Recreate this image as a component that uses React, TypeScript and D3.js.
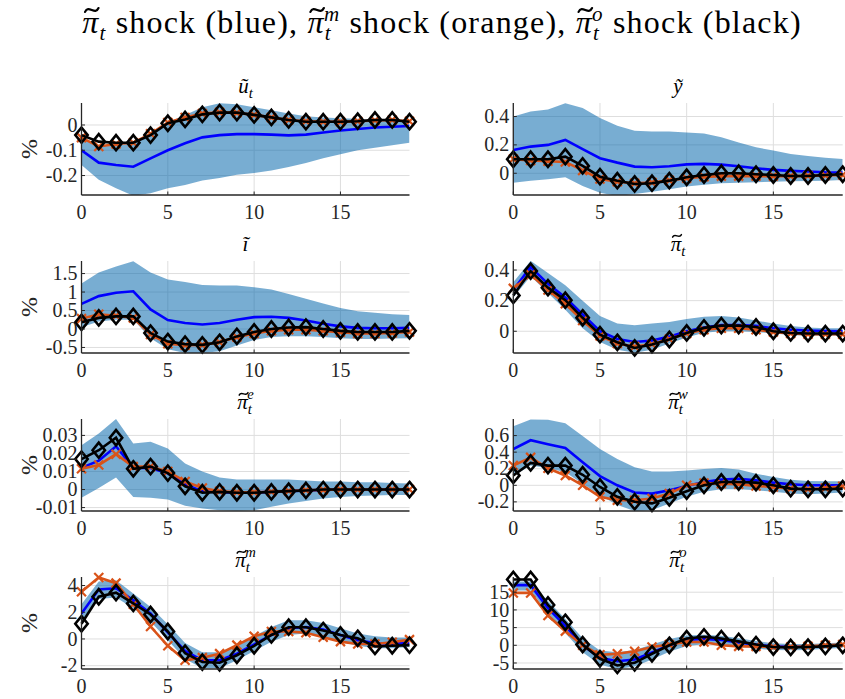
import React, { useLayoutEffect, useRef, useState } from "react";
import * as d3 from "d3";

// Impulse-response horizon
const horizon = d3.range(20);
const xTicks = [0, 5, 10, 15];

// ---- u_t ----
const uBlue = [-0.1, -0.149, -0.158, -0.165, -0.132, -0.1, -0.072, -0.049, -0.04, -0.036, -0.036, -0.038, -0.041, -0.038, -0.03, -0.022, -0.016, -0.01, -0.007, -0.004];
const uLo = [-0.158, -0.217, -0.25, -0.28, -0.27, -0.25, -0.237, -0.22, -0.21, -0.197, -0.19, -0.18, -0.166, -0.15, -0.132, -0.116, -0.1, -0.09, -0.08, -0.07];
const uHi = [-0.05, -0.08, -0.08, -0.07, -0.03, 0.01, 0.04, 0.07, 0.086, 0.082, 0.07, 0.058, 0.045, 0.035, 0.03, 0.027, 0.025, 0.022, 0.02, 0.018];
const uOrange = [-0.05, -0.085, -0.075, -0.07, -0.035, 0.01, 0.03, 0.045, 0.05, 0.048, 0.04, 0.03, 0.02, 0.015, 0.013, 0.013, 0.015, 0.018, 0.02, 0.015];
const uBlack = [-0.04, -0.066, -0.07, -0.07, -0.04, 0.007, 0.022, 0.042, 0.049, 0.049, 0.04, 0.03, 0.02, 0.013, 0.013, 0.013, 0.015, 0.02, 0.02, 0.013];

// ---- y ----
const yBlue = [0.164, 0.188, 0.2, 0.235, 0.17, 0.106, 0.075, 0.047, 0.042, 0.05, 0.063, 0.066, 0.061, 0.05, 0.035, 0.024, 0.017, 0.012, 0.007, 0.005];
const yLo = [-0.066, -0.052, -0.042, -0.028, -0.09, -0.137, -0.16, -0.146, -0.13, -0.113, -0.094, -0.08, -0.07, -0.066, -0.064, -0.059, -0.056, -0.054, -0.052, -0.047];
const yHi = [0.4, 0.435, 0.45, 0.494, 0.46, 0.39, 0.334, 0.3, 0.294, 0.294, 0.287, 0.28, 0.254, 0.216, 0.183, 0.16, 0.136, 0.122, 0.11, 0.1];
const yOrange = [0.1, 0.09, 0.085, 0.08, 0.02, -0.04, -0.06, -0.07, -0.065, -0.05, -0.035, -0.025, -0.02, -0.02, -0.02, -0.02, -0.02, -0.018, -0.015, -0.012];
const yBlack = [0.099, 0.099, 0.099, 0.117, 0.052, -0.024, -0.052, -0.075, -0.07, -0.052, -0.028, -0.012, 0, 0, -0.007, -0.012, -0.019, -0.019, -0.012, -0.007];

// ---- i ----
const iBlue = [0.68, 0.89, 0.98, 1.02, 0.53, 0.24, 0.16, 0.12, 0.16, 0.25, 0.32, 0.33, 0.3, 0.23, 0.14, 0.07, 0.03, 0.02, 0.02, 0.03];
const iLo = [0.05, 0.2, 0.25, 0.25, -0.25, -0.55, -0.65, -0.65, -0.6, -0.45, -0.3, -0.22, -0.2, -0.2, -0.22, -0.25, -0.27, -0.27, -0.26, -0.25];
const iHi = [1.23, 1.53, 1.69, 1.83, 1.53, 1.34, 1.27, 1.19, 1.18, 1.18, 1.13, 1.07, 0.95, 0.82, 0.69, 0.57, 0.48, 0.44, 0.4, 0.38];
const iOrange = [0.28, 0.4, 0.36, 0.3, -0.15, -0.4, -0.44, -0.43, -0.36, -0.22, -0.12, -0.05, -0.02, -0.02, -0.05, -0.09, -0.12, -0.12, -0.11, -0.08];
const iBlack = [0.18, 0.3, 0.34, 0.34, -0.11, -0.34, -0.41, -0.43, -0.36, -0.2, -0.08, 0, 0.04, 0.05, 0, -0.05, -0.08, -0.08, -0.08, -0.05];

// ---- pi_t ----
const pBlue = [0.27, 0.42, 0.31, 0.22, 0.11, 0.0, -0.05, -0.07, -0.06, -0.035, 0.0, 0.025, 0.04, 0.04, 0.035, 0.02, 0.01, 0.005, 0.002, 0.0];
const pLo = [0.22, 0.36, 0.25, 0.14, 0.02, -0.07, -0.12, -0.14, -0.12, -0.08, -0.04, -0.01, 0.0, 0.0, -0.005, -0.015, -0.025, -0.03, -0.03, -0.03];
const pHi = [0.32, 0.46, 0.38, 0.3, 0.2, 0.1, 0.05, 0.04, 0.05, 0.06, 0.08, 0.095, 0.1, 0.09, 0.07, 0.05, 0.035, 0.025, 0.02, 0.02];
const pOrange = [0.28, 0.37, 0.27, 0.18, 0.07, -0.03, -0.08, -0.1, -0.085, -0.05, -0.015, 0.01, 0.02, 0.02, 0.01, -0.005, -0.015, -0.02, -0.02, -0.02];
const pBlack = [0.234, 0.393, 0.285, 0.203, 0.088, -0.022, -0.072, -0.109, -0.087, -0.054, -0.011, 0.022, 0.037, 0.037, 0.028, 0, -0.011, -0.015, -0.015, -0.015];

// ---- pi_e ----
const eBlue = [0.012, 0.016, 0.024, 0.012, 0.012, 0.009, 0.003, -0.001, -0.0015, -0.0018, -0.0017, -0.0013, -0.0009, -0.0005, -0.0002, 0, 0, 0, 0, 0];
const eLo = [-0.0045, 0.0009, 0.0067, -0.0042, -0.0045, -0.0055, -0.009, -0.0105, -0.0115, -0.0118, -0.0115, -0.0095, -0.0078, -0.0064, -0.005, -0.0042, -0.0036, -0.0033, -0.003, -0.003];
const eHi = [0.0245, 0.031, 0.0391, 0.0255, 0.0265, 0.0227, 0.0145, 0.01, 0.0067, 0.0055, 0.0055, 0.0055, 0.0055, 0.005, 0.0045, 0.0045, 0.004, 0.004, 0.0036, 0.0033];
const eOrange = [0.0115, 0.0136, 0.0196, 0.0127, 0.0127, 0.01, 0.0045, 0.0009, -0.0009, -0.0015, -0.0015, -0.0012, -0.0008, -0.0004, -0.0002, 0, 0, 0, 0, 0];
const eBlack = [0.0169, 0.0218, 0.0287, 0.0115, 0.0127, 0.0091, 0.0018, -0.0018, -0.0013, -0.0018, -0.0018, -0.0013, -0.0009, -0.0005, 0, 0, 0, 0, 0, 0];

// ---- pi_w ----
const wBlue = [0.437, 0.544, 0.496, 0.45, 0.278, 0.111, 0.0, -0.087, -0.1, -0.06, -0.008, 0.04, 0.071, 0.079, 0.06, 0.032, 0.012, 0, 0, 0];
const wLo = [0.111, 0.238, 0.206, 0.159, 0.02, -0.119, -0.238, -0.31, -0.3, -0.218, -0.139, -0.079, -0.048, -0.048, -0.06, -0.079, -0.1, -0.107, -0.1, -0.087];
const wHi = [0.714, 0.794, 0.79, 0.75, 0.595, 0.437, 0.317, 0.218, 0.167, 0.167, 0.18, 0.198, 0.21, 0.19, 0.14, 0.1, 0.067, 0.052, 0.048, 0.048];
const wOrange = [0.238, 0.337, 0.206, 0.119, 0, -0.139, -0.18, -0.18, -0.16, -0.1, 0, 0.028, 0.02, 0.012, -0.008, -0.02, -0.04, -0.048, -0.032, -0.012];
const wBlack = [0.119, 0.27, 0.238, 0.238, 0.127, -0.02, -0.139, -0.198, -0.218, -0.15, -0.071, 0, 0.04, 0.04, 0.032, 0, -0.04, -0.048, -0.048, -0.04];

// ---- pi_m ----
const mBlue = [1.9, 3.7, 3.8, 2.9, 1.9, 0.5, -0.9, -1.6, -1.6, -1.1, -0.4, 0.3, 0.8, 0.9, 0.7, 0.3, -0.1, -0.3, -0.35, -0.3];
const mLo = [1.3, 3.0, 3.1, 2.3, 1.3, -0.1, -1.5, -2.2, -2.2, -1.6, -0.9, -0.2, 0.3, 0.4, 0.2, -0.2, -0.5, -0.7, -0.7, -0.6];
const mHi = [2.6, 4.3, 4.4, 3.4, 2.4, 1.1, -0.3, -1.0, -1.0, -0.5, 0.2, 0.9, 1.4, 1.4, 1.2, 0.8, 0.4, 0.2, 0.1, 0.1];
const mOrange = [3.54, 4.6, 4.18, 2.6, 0.93, -0.51, -1.6, -1.4, -1.1, -0.46, 0.2, 0.56, 0.56, 0.46, 0.13, -0.2, -0.38, -0.38, -0.25, -0.05];
const mBlack = [1.14, 3.16, 3.47, 2.66, 1.83, 0.56, -1.06, -1.73, -1.78, -1.22, -0.51, 0.3, 0.88, 0.88, 0.63, 0.3, 0.05, -0.56, -0.51, -0.46];

// ---- pi_o ----
const oBlue = [17.0, 17.0, 10.5, 5.5, 0.0, -3.5, -4.5, -4.0, -2.0, 0.0, 1.5, 1.8, 1.5, 0.8, 0.2, -0.3, -0.4, -0.4, -0.2, 0];
const oLo = [15.5, 15.5, 9.0, 3.5, -2.0, -5.5, -6.7, -6.0, -4.0, -1.8, -0.2, 0.3, 0.3, -0.3, -1.0, -1.3, -1.4, -1.3, -1.0, -0.8];
const oHi = [18.0, 18.0, 12.5, 7.5, 2.0, -1.5, -2.0, -1.3, 0.2, 1.8, 2.8, 3.0, 2.7, 2.0, 1.2, 0.6, 0.4, 0.4, 0.6, 0.8];
const oOrange = [14.8, 14.8, 8.4, 4.0, 0, -2.7, -2.4, -1.7, -0.5, 0.2, 0.95, 0.95, 0, -0.3, -0.3, -0.5, -0.5, -0.3, 0, 0.2];
const oBlack = [18.6, 18.6, 11.4, 6.5, 0.2, -3.8, -5.7, -4.95, -2.4, 0, 1.9, 2.4, 1.9, 1.1, 0.2, -0.5, -0.6, -0.5, -0.3, 0];

// Axis limits and tick values per panel
const yDomains = [
  [-0.277, 0.087], [-0.153, 0.495],
  [-0.65, 1.84], [-0.142, 0.459],
  [-0.0119, 0.0391], [-0.31, 0.8],
  [-2.25, 4.64], [-6.7, 19.3],
];
const yTickSets = [
  [-0.2, -0.1, 0], [0, 0.2, 0.4],
  [-0.5, 0, 0.5, 1, 1.5], [0, 0.2, 0.4],
  [-0.01, 0, 0.01, 0.02, 0.03], [-0.2, 0, 0.2, 0.4, 0.6],
  [-2, 0, 2, 4], [-5, 0, 5, 10, 15],
];

// Panel titles: base symbol, subscript, superscript
const panelTitles = [
  { base: "ũ", sub: "t" },
  { base: "ỹ" },
  { base: "ĩ" },
  { base: "π", sub: "t" },
  { base: "π", sub: "t", sup: "e" },
  { base: "π", sub: "t", sup: "w" },
  { base: "π", sub: "t", sup: "m" },
  { base: "π", sub: "t", sup: "o" },
];

const panels = [
  { blue: uBlue, lo: uLo, hi: uHi, orange: uOrange, black: uBlack },
  { blue: yBlue, lo: yLo, hi: yHi, orange: yOrange, black: yBlack },
  { blue: iBlue, lo: iLo, hi: iHi, orange: iOrange, black: iBlack },
  { blue: pBlue, lo: pLo, hi: pHi, orange: pOrange, black: pBlack },
  { blue: eBlue, lo: eLo, hi: eHi, orange: eOrange, black: eBlack },
  { blue: wBlue, lo: wLo, hi: wHi, orange: wOrange, black: wBlack },
  { blue: mBlue, lo: mLo, hi: mHi, orange: mOrange, black: mBlack },
  { blue: oBlue, lo: oLo, hi: oHi, orange: oOrange, black: oBlack },
];

// Layout
const W = 845;
const H = 699;
const colX = [
  [81.5, 409.5],
  [513.3, 842.7],
];
const rowTop = [103, 261, 419, 577];
const plotH = 92;

const SERIF = '"Liberation Serif", "Times New Roman", Tinos, "DejaVu Serif", serif';
const AXIS = "#262626";
const GRID = "#dedede";
const BAND = "rgb(0,100,170)";
const BLUE = "#0000ff";
const ORANGE = "#d95319";
const BLACK = "#000000";

// Text that places a drawn tilde accent over every "π" it contains
function TildeText({
  x,
  y,
  size,
  anchor,
  italic,
  spacing,
  children,
}: {
  x: number;
  y: number;
  size: number;
  anchor: "start" | "middle" | "end";
  italic?: boolean;
  spacing?: number;
  children: React.ReactNode;
}) {
  const ref = useRef<SVGTextElement>(null);
  const [marks, setMarks] = useState<{ cx: number; w: number }[]>([]);
  useLayoutEffect(() => {
    const el = ref.current;
    if (!el) return;
    const txt = el.textContent || "";
    const n = el.getNumberOfChars();
    const out: { cx: number; w: number }[] = [];
    for (let i = 0; i < n && i < txt.length; i++) {
      if (txt[i] === "π") {
        const b = el.getExtentOfChar(i);
        out.push({ cx: b.x + b.width / 2, w: b.width });
      }
    }
    setMarks(out);
  }, []);
  const yc = y - size * 0.72;
  const tw = size * 0.42;
  const a = size * 0.06;
  return (
    <g>
      <text
        ref={ref}
        x={x}
        y={y}
        textAnchor={anchor}
        style={{ fontFamily: SERIF, fontStyle: italic ? "italic" : "normal", letterSpacing: spacing ? `${spacing}px` : undefined }}
        fontSize={size}
        fill="#000"
      >
        {children}
      </text>
      {marks.map((m, i) => {
        const cx = m.cx + size * 0.05 - (spacing || 0) / 2;
        return (
          <path
            key={i}
            d={`M${cx - tw / 2},${yc + a} C${cx - tw / 4},${yc - 3 * a} ${cx + tw / 4},${yc + 3 * a} ${cx + tw / 2},${yc - a}`}
            fill="none"
            stroke="#000"
            strokeWidth={size * 0.07}
            strokeLinecap="round"
          />
        );
      })}
    </g>
  );
}

function MathTitle({ x, y, base, sub, sup, size }: { x: number; y: number; base: string; sub?: string; sup?: string; size: number }) {
  const s = size * 0.7;
  return (
    <TildeText x={x} y={y} size={size} anchor="middle" italic>
      <tspan>{base}</tspan>
      {sub && (
        <tspan fontSize={s} dy={size * 0.25}>
          {sub}
        </tspan>
      )}
      {sup && (
        <tspan fontSize={s} dx={-s * 0.32} dy={-size * 0.72}>
          {sup}
        </tspan>
      )}
    </TildeText>
  );
}

function Panel({ idx }: { idx: number }) {
  const col = idx % 2;
  const row = Math.floor(idx / 2);
  const [x0, x1] = colX[col];
  const top = rowTop[row];
  const bottom = top + plotH;
  const data = panels[idx];

  const x = d3.scaleLinear().domain([0, 19]).range([x0, x1]);
  const y = d3.scaleLinear().domain(yDomains[idx]).range([bottom, top]);

  const area = d3
    .area<number>()
    .x((_, i) => x(horizon[i]))
    .y0((_, i) => y(data.lo[i]))
    .y1((_, i) => y(data.hi[i]));
  const line = d3
    .line<number>()
    .x((_, i) => x(horizon[i]))
    .y((d) => y(d));

  const clipId = `clip-${idx}`;
  const t = panelTitles[idx];

  return (
    <g>
      <defs>
        <clipPath id={clipId}>
          <rect x={x0} y={top} width={x1 - x0} height={plotH} />
        </clipPath>
      </defs>
      {/* grid */}
      {xTicks.map((v) => (
        <line key={`gx${v}`} x1={x(v)} x2={x(v)} y1={top} y2={bottom} stroke={GRID} strokeWidth={1} />
      ))}
      {yTickSets[idx].map((v) => (
        <line key={`gy${v}`} x1={x0} x2={x1} y1={y(v)} y2={y(v)} stroke={GRID} strokeWidth={1} />
      ))}
      {/* confidence band */}
      <path d={area(data.lo) || ""} fill={BAND} fillOpacity={0.53} stroke="none" clipPath={`url(#${clipId})`} />
      {/* responses */}
      <path d={line(data.blue) || ""} fill="none" stroke={BLUE} strokeWidth={2.6} clipPath={`url(#${clipId})`} />
      <path d={line(data.orange) || ""} fill="none" stroke={ORANGE} strokeWidth={2.6} />
      {data.orange.map((v, i) => {
        const cx = x(horizon[i]);
        const cy = y(v);
        const r = 4.5;
        return (
          <path
            key={`o${i}`}
            d={`M${cx - r},${cy - r}L${cx + r},${cy + r}M${cx - r},${cy + r}L${cx + r},${cy - r}`}
            stroke={ORANGE}
            strokeWidth={2.2}
            fill="none"
          />
        );
      })}
      <path d={line(data.black) || ""} fill="none" stroke={BLACK} strokeWidth={2.6} />
      {data.black.map((v, i) => {
        const cx = x(horizon[i]);
        const cy = y(v);
        const hw = 6.2;
        const hh = 7.6;
        return (
          <path
            key={`b${i}`}
            d={`M${cx},${cy - hh}L${cx + hw},${cy}L${cx},${cy + hh}L${cx - hw},${cy}Z`}
            stroke={BLACK}
            strokeWidth={2.6}
            fill="none"
            strokeLinejoin="miter"
          />
        );
      })}
      {/* axes */}
      <line x1={x0} x2={x1} y1={bottom} y2={bottom} stroke={AXIS} strokeWidth={1.3} />
      <line x1={x0} x2={x0} y1={top} y2={bottom} stroke={AXIS} strokeWidth={1.3} />
      {xTicks.map((v) => (
        <g key={`tx${v}`}>
          <line x1={x(v)} x2={x(v)} y1={bottom} y2={bottom - 3.5} stroke={AXIS} strokeWidth={1} />
          <text x={x(v)} y={bottom + 24} textAnchor="middle" style={{ fontFamily: SERIF }} fontSize={20} fill={AXIS}>
            {v}
          </text>
        </g>
      ))}
      {yTickSets[idx].map((v) => (
        <g key={`ty${v}`}>
          <line x1={x0} x2={x0 + 3.5} y1={y(v)} y2={y(v)} stroke={AXIS} strokeWidth={1} />
          <text x={x0 - 4} y={y(v)} dy="0.33em" textAnchor="end" style={{ fontFamily: SERIF }} fontSize={20} fill={AXIS}>
            {String(v)}
          </text>
        </g>
      ))}
      {col === 0 && (
        <text
          transform={`translate(37,${(top + bottom) / 2}) rotate(-90)`}
          textAnchor="middle"
          style={{ fontFamily: SERIF }}
          fontSize={24}
          fill={AXIS}
        >
          %
        </text>
      )}
      <MathTitle x={(x0 + x1) / 2} y={top - 10} base={t.base} sub={t.sub} sup={t.sup} size={21} />
    </g>
  );
}

export default function App() {
  const fs = 32;
  const ss = 21;
  const subDy = 7;
  const supDy = 19;
  const piShock = (sup?: string) => (
    <>
      <tspan fontStyle="italic">π</tspan>
      <tspan fontStyle="italic" fontSize={ss} dy={subDy}>
        t
      </tspan>
      {sup ? (
        <>
          <tspan fontStyle="italic" fontSize={ss} dx={-ss * 0.32 - 1.2} dy={-supDy}>
            {sup}
          </tspan>
          <tspan dy={supDy - subDy}> shock </tspan>
        </>
      ) : (
        <tspan dy={-subDy}> shock </tspan>
      )}
    </>
  );
  return (
    <>
      <style>{`html, body { margin: 0; padding: 0; background: #fff; }`}</style>
      <svg
        width={W}
        height={H}
        style={{ display: "block", position: "absolute", left: 0, top: 0, background: "#fff", fontFamily: SERIF }}
      >
        <rect width={W} height={H} fill="#fff" />
        <TildeText x={442} y={33} size={fs} anchor="middle" spacing={1.2}>
          {piShock()}
          <tspan>(blue), </tspan>
          {piShock("m")}
          <tspan>(orange), </tspan>
          {piShock("o")}
          <tspan>(black)</tspan>
        </TildeText>
        {panels.map((_, i) => (
          <Panel key={i} idx={i} />
        ))}
      </svg>
    </>
  );
}
